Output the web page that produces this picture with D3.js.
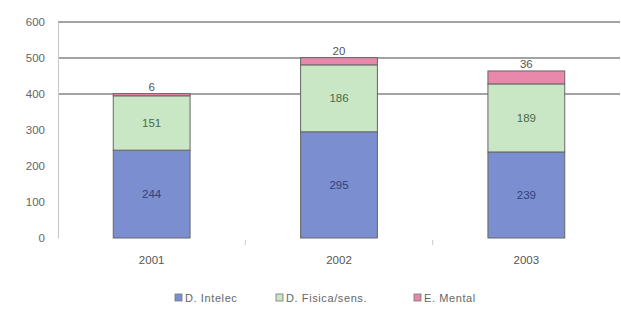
<!DOCTYPE html>
<html><head><meta charset="utf-8">
<script src="https://cdn.jsdelivr.net/npm/d3@7"></script>
<style>body{margin:0;background:#fff}svg{display:block}text{font-family:"Liberation Sans",Arial,sans-serif}</style>
</head><body>
<svg id="c" width="621" height="316"></svg>
<script>
const years = ["2001","2002","2003"];
const intelec = [244,295,239];
const fisica = [151,186,189];
const mental = [6,20,36];
const yTicks = [0,100,200,300,400,500,600];
const gridTicks = [400,500,600];
const seriesNames = ["D. Intelec","D. Fisica/sens.","E. Mental"];
const colors = ["#7b8fd0","#c9e7c5","#e888aa"];
const labelColors = ["#33407a","#4a6a4a","#555"];

const svg = d3.select("#c");
const x = d3.scaleBand().domain(years).range([58,620]).paddingInner(0.59).paddingOuter(0.295);
const y = d3.scaleLinear().domain([0,600]).range([238,22]);

svg.append("g").selectAll("line").data(gridTicks).join("line")
  .attr("x1",58).attr("x2",620).attr("y1",d=>y(d)).attr("y2",d=>y(d))
  .attr("stroke","#858585").attr("stroke-width",1.4);

const ya = svg.append("g").attr("transform","translate(58,0)")
  .call(d3.axisLeft(y).tickValues(yTicks).tickSize(0).tickPadding(13));
ya.select(".domain").attr("stroke","#c8c8c8");
ya.selectAll("text").attr("fill","#666").attr("font-size",11.5);

const xa = svg.append("g").attr("transform","translate(0,238)")
  .call(d3.axisBottom(x).tickSize(0).tickPadding(18));
xa.select(".domain").remove();
xa.selectAll("text").attr("fill","#555").attr("font-size",11.5);
const step = x.step();
svg.append("g").selectAll("line").data([1,2]).join("line")
  .attr("x1",d=>58+d*step).attr("x2",d=>58+d*step).attr("y1",240).attr("y2",245)
  .attr("stroke","#ccc");

const data = years.map((yr,i)=>({year:yr,intelec:intelec[i],fisica:fisica[i],mental:mental[i]}));
const stack = d3.stack().keys(["intelec","fisica","mental"])(data);

svg.append("g").selectAll("g").data(stack).join("g")
  .attr("fill",(d,i)=>colors[i])
  .selectAll("rect").data(d=>d).join("rect")
  .attr("x",d=>x(d.data.year)).attr("width",x.bandwidth())
  .attr("y",d=>y(d[1])).attr("height",d=>y(d[0])-y(d[1]))
  .attr("stroke","#666").attr("stroke-width",1);

stack.forEach((s,si)=>{
  svg.append("g").selectAll("text").data(s).join("text")
    .attr("x",d=>x(d.data.year)+x.bandwidth()/2)
    .attr("y",d=> si<2 ? (y(d[0])+y(d[1]))/2+4 : y(d[1])-3)
    .attr("text-anchor","middle").attr("font-size",11.5)
    .attr("fill",labelColors[si])
    .text((d,i)=>[intelec,fisica,mental][si][i]);
});

const legX = [175,276,414];
const lg = svg.append("g");
seriesNames.forEach((n,i)=>{
  lg.append("rect").attr("x",legX[i]).attr("y",294).attr("width",7).attr("height",7)
    .attr("fill",colors[i]).attr("stroke","#777").attr("stroke-width",0.8);
  lg.append("text").attr("x",legX[i]+10).attr("y",302).attr("font-size",11).attr("fill","#666")
    .attr("letter-spacing",0.6).text(n);
});
</script>
</body></html>
